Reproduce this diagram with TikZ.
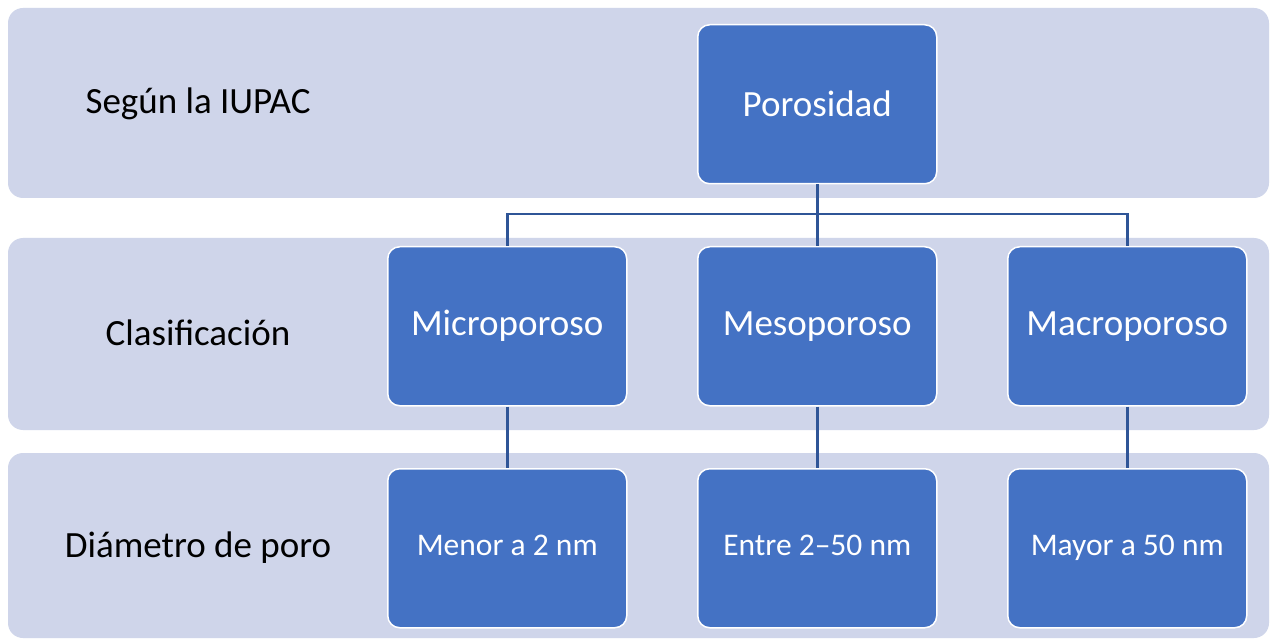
\documentclass[tikz,border=0pt]{standalone}
\usepackage{fontspec}
\setmainfont{Carlito}
\definecolor{bandfill}{HTML}{CFD5EA}
\definecolor{boxfill}{HTML}{4472C4}
\definecolor{linecol}{HTML}{2F5597}
\begin{document}
\begin{tikzpicture}[x=1pt,y=-1pt,
  band/.style={fill=bandfill, draw=none, rounded corners=15pt},
  blockbox/.style={fill=boxfill, draw=white, line width=1.5pt, rounded corners=12pt,
     minimum width=239pt, minimum height=159pt, inner sep=0pt, text=white, anchor=north west},
  biglabel/.style={font=\fontsize{37}{44}\selectfont, text=black},
  bigtext/.style={font=\fontsize{37}{44}\selectfont},
  smalltext/.style={font=\fontsize{31.5}{38}\selectfont, text height=21pt, text depth=6pt},
  conn/.style={draw=linecol, line width=2.6pt}]
\useasboundingbox (0,0) rectangle (1270,639);
\fill[white] (0,0) rectangle (1270,639);
% bands
\path[band] (8,8) rectangle (1269,198);
\path[band] (8,238) rectangle (1269,430);
\path[band] (8,453) rectangle (1269,638);
% labels
\node[biglabel] (l1) at (198,104) {Según la IUPAC};
\node[biglabel] (l2) at (198,333) {Clasificación};
\node[biglabel] (l3) at (198,548) {Diámetro de poro};
% boxes
\node[blockbox, bigtext] (por) at (697,24) {Porosidad};
\node[blockbox, bigtext] (mic) at (387,246) {Microporoso};
\node[blockbox, bigtext] (mes) at (697,246) {Mesoporoso};
\node[blockbox, bigtext] (mac) at (1007,246) {Macroporoso};
\node[blockbox, smalltext] (d1) at (387,468) {Menor a 2 nm};
\node[blockbox, smalltext] (d2) at (697,468) {Entre 2–50 nm};
\node[blockbox, smalltext] (d3) at (1007,468) {Mayor a 50 nm};
% connectors
\coordinate (bus) at (0,214);
\draw[conn] (por.south) -- (por.south |- bus) -| (mic.north);
\draw[conn] (por.south |- bus) -- (mes.north);
\draw[conn] (por.south |- bus) -| (mac.north);
\draw[conn] (mic.south) -- (d1.north);
\draw[conn] (mes.south) -- (d2.north);
\draw[conn] (mac.south) -- (d3.north);
\end{tikzpicture}
\end{document}
